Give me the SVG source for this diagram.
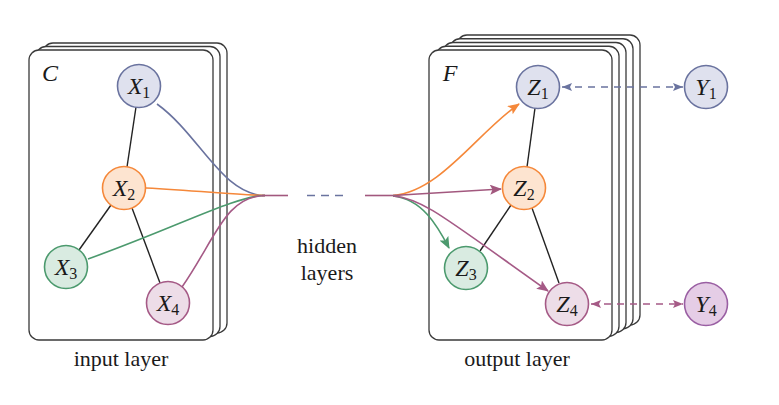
<svg xmlns="http://www.w3.org/2000/svg" width="779" height="405" viewBox="0 0 779 405">
<style>
.card{fill:#fff;stroke:#3a3a3a;stroke-width:1.3}
.edge{stroke:#222;stroke-width:1.4;fill:none}
.lbl{font-family:'Liberation Serif','DejaVu Serif',serif;font-style:italic;font-size:24px;fill:#1a1a1a;text-anchor:middle}
.sub{font-style:normal;font-size:16px}
.txt{font-family:'Liberation Serif','DejaVu Serif',serif;font-size:22px;fill:#1a1a1a;text-anchor:middle}
.blue{fill:#dfe1ee;stroke:#6a739f;stroke-width:1.6}
.orange{fill:#fde4d0;stroke:#f5883a;stroke-width:1.6}
.green{fill:#d9ebe1;stroke:#4c9a6e;stroke-width:1.6}
.pink{fill:#eddde8;stroke:#a55a86;stroke-width:1.6}
.purple{fill:#e5cde6;stroke:#9a5fa3;stroke-width:1.6}
.c{fill:none;stroke-width:1.6}
</style>
<defs>
<marker id="aO" markerUnits="userSpaceOnUse" markerWidth="14" markerHeight="12" refX="11" refY="5" orient="auto"><path d="M0,0 L12,5 L0,10 L2.5,5 z" fill="#f5883a"/></marker>
<marker id="aM" markerUnits="userSpaceOnUse" markerWidth="14" markerHeight="12" refX="11" refY="5" orient="auto"><path d="M0,0 L12,5 L0,10 L2.5,5 z" fill="#a2587e"/></marker>
<marker id="aG" markerUnits="userSpaceOnUse" markerWidth="14" markerHeight="12" refX="11" refY="5" orient="auto"><path d="M0,0 L12,5 L0,10 L2.5,5 z" fill="#4c9a6e"/></marker>
<marker id="aP" markerUnits="userSpaceOnUse" markerWidth="14" markerHeight="12" refX="11" refY="5" orient="auto"><path d="M0,0 L12,5 L0,10 L2.5,5 z" fill="#a55a86"/></marker>
<marker id="aB" markerUnits="userSpaceOnUse" markerWidth="12" markerHeight="10" refX="10" refY="4" orient="auto-start-reverse"><path d="M0,0 L10,4 L0,8 L2,4 z" fill="#6a739f"/></marker>
<marker id="aQ" markerUnits="userSpaceOnUse" markerWidth="12" markerHeight="10" refX="10" refY="4" orient="auto-start-reverse"><path d="M0,0 L10,4 L0,8 L2,4 z" fill="#a55a86"/></marker>
</defs>

<g id="input-stack">
<rect class="card" x="43" y="43" width="184" height="290" rx="10"/>
<rect class="card" x="36" y="46.5" width="184" height="290" rx="10"/>
<rect class="card" x="29" y="50" width="184" height="290" rx="10"/>
<text class="lbl" x="50" y="81">C</text>
</g>
<g id="output-stack">
<rect class="card" x="457" y="35" width="183" height="290" rx="10"/>
<rect class="card" x="450" y="38.75" width="183" height="290" rx="10"/>
<rect class="card" x="443" y="42.5" width="183" height="290" rx="10"/>
<rect class="card" x="436" y="46.25" width="183" height="290" rx="10"/>
<rect class="card" x="429" y="50" width="183" height="290" rx="10"/>
<text class="lbl" x="450" y="81">F</text>
</g>

<g id="connectors">
<line class="edge" x1="136" y1="107" x2="127" y2="167"/>
<line class="edge" x1="111" y1="205" x2="79" y2="250"/>
<line class="edge" x1="132" y1="208" x2="160" y2="283"/>
<line class="edge" x1="535" y1="108" x2="527" y2="167"/>
<line class="edge" x1="511" y1="205" x2="480" y2="251"/>
<line class="edge" x1="532" y1="208" x2="559" y2="283"/>
<path class="c" stroke="#6a739f" d="M157,104 C200,135 222,195 265,195.5"/>
<path class="c" stroke="#f5883a" d="M146,188 C200,191 240,195 265,195.5"/>
<path class="c" stroke="#4c9a6e" d="M88,259 C180,226 235,196 265,195.5"/>
<path class="c" stroke="#a55a86" d="M182,287 C215,240 225,196 265,195.5"/>
<path class="c" stroke="#a2587e" d="M262,195.5 L288,195.5"/>
<path class="c" stroke="#6a739f" stroke-dasharray="8,6" d="M307,195.5 L347,195.5"/>
<path class="c" stroke="#a2587e" d="M365,195.5 L396,195.5"/>
<path class="c" stroke="#f5883a" marker-end="url(#aO)" d="M393,195.5 C440,192 478,132 519,104"/>
<path class="c" stroke="#a2587e" marker-end="url(#aM)" d="M393,195.5 L501,189"/>
<path class="c" stroke="#4c9a6e" marker-end="url(#aG)" d="M393,196 C422,199 437,225 449,248"/>
<path class="c" stroke="#a55a86" marker-end="url(#aP)" d="M393,196 C422,198 445,218 548,291"/>
<path class="c" stroke="#6a739f" stroke-dasharray="7,6" marker-start="url(#aB)" marker-end="url(#aB)" d="M562,87 L683,87"/>
<path class="c" stroke="#a55a86" stroke-dasharray="7,6" marker-start="url(#aQ)" marker-end="url(#aQ)" d="M591,304 L683,304"/>
</g>

<g id="X1"><circle class="blue" cx="139" cy="86" r="21.5"/><text class="lbl" x="139" y="94">X<tspan class="sub" dy="4">1</tspan></text></g>
<g id="X2"><circle class="orange" cx="124" cy="188" r="21.5"/><text class="lbl" x="124" y="196">X<tspan class="sub" dy="4">2</tspan></text></g>
<g id="X3"><circle class="green" cx="66" cy="267" r="21.5"/><text class="lbl" x="66" y="275">X<tspan class="sub" dy="4">3</tspan></text></g>
<g id="X4"><circle class="pink" cx="168" cy="303" r="21.5"/><text class="lbl" x="168" y="311">X<tspan class="sub" dy="4">4</tspan></text></g>
<g id="Z1"><circle class="blue" cx="538" cy="87" r="21.5"/><text class="lbl" x="538" y="95">Z<tspan class="sub" dy="4">1</tspan></text></g>
<g id="Z2"><circle class="orange" cx="524" cy="188" r="21.5"/><text class="lbl" x="524" y="196">Z<tspan class="sub" dy="4">2</tspan></text></g>
<g id="Z3"><circle class="green" cx="466" cy="268" r="21.5"/><text class="lbl" x="466" y="276">Z<tspan class="sub" dy="4">3</tspan></text></g>
<g id="Z4"><circle class="pink" cx="567" cy="304" r="21.5"/><text class="lbl" x="567" y="312">Z<tspan class="sub" dy="4">4</tspan></text></g>
<g id="Y1"><circle class="blue" cx="706" cy="87" r="21.5"/><text class="lbl" x="706" y="95">Y<tspan class="sub" dy="4">1</tspan></text></g>
<g id="Y4"><circle class="purple" cx="706" cy="304" r="21.5"/><text class="lbl" x="706" y="312">Y<tspan class="sub" dy="4">4</tspan></text></g>

<g id="labels">
<text class="txt" x="121" y="366">input layer</text>
<text class="txt" x="517" y="366">output layer</text>
<text class="txt" x="327" y="253">hidden</text>
<text class="txt" x="327" y="280">layers</text>
</g>
</svg>
